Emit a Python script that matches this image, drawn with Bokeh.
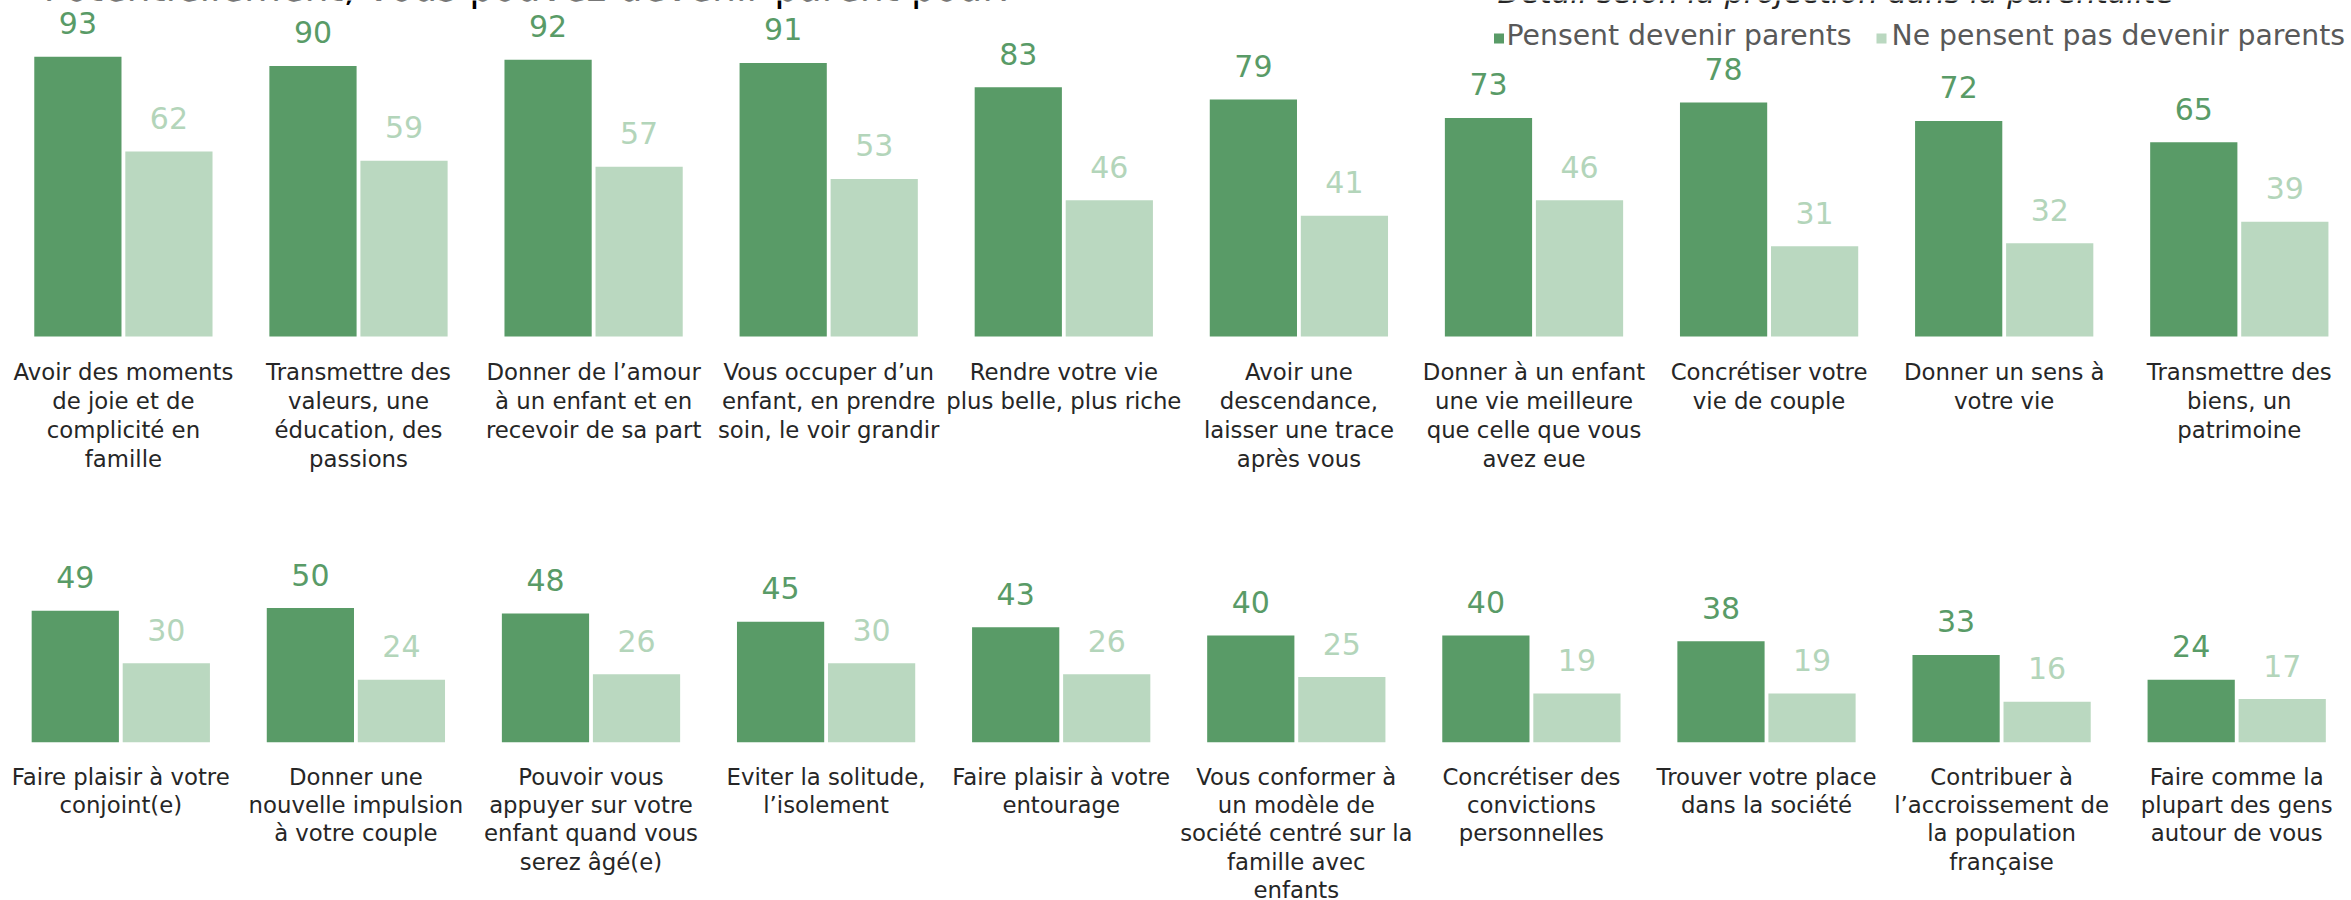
import numpy as np
from bokeh.plotting import figure
from bokeh.models import Range1d, ColumnDataSource
from bokeh.core.properties import value
from bokeh.transform import dodge
from bokeh.embed import file_html
from bokeh.resources import INLINE

# ---------------- data ----------------
title_text = "Potentiellement, vous pouvez devenir parent pour:"
subtitle_text = "Détail selon la projection dans la parentalité"
series_names = ["Pensent devenir parents", "Ne pensent pas devenir parents"]

top_categories = [
    "Avoir des moments\nde joie et de\ncomplicité en\nfamille",
    "Transmettre des\nvaleurs, une\néducation, des\npassions",
    "Donner de l’amour\nà un enfant et en\nrecevoir de sa part",
    "Vous occuper d’un\nenfant, en prendre\nsoin, le voir grandir",
    "Rendre votre vie\nplus belle, plus riche",
    "Avoir une\ndescendance,\nlaisser une trace\naprès vous",
    "Donner à un enfant\nune vie meilleure\nque celle que vous\navez eue",
    "Concrétiser votre\nvie de couple",
    "Donner un sens à\nvotre vie",
    "Transmettre des\nbiens, un\npatrimoine",
]
top_parents = [93, 90, 92, 91, 83, 79, 73, 78, 72, 65]
top_non_parents = [62, 59, 57, 53, 46, 41, 46, 31, 32, 39]

bottom_categories = [
    "Faire plaisir à votre\nconjoint(e)",
    "Donner une\nnouvelle impulsion\nà votre couple",
    "Pouvoir vous\nappuyer sur votre\nenfant quand vous\nserez âgé(e)",
    "Eviter la solitude,\nl’isolement",
    "Faire plaisir à votre\nentourage",
    "Vous conformer à\nun modèle de\nsociété centré sur la\nfamille avec\nenfants",
    "Concrétiser des\nconvictions\npersonnelles",
    "Trouver votre place\ndans la société",
    "Contribuer à\nl’accroissement de\nla population\nfrançaise",
    "Faire comme la\nplupart des gens\nautour de vous",
]
bottom_parents = [49, 50, 48, 45, 43, 40, 40, 38, 33, 24]
bottom_non_parents = [30, 24, 26, 30, 26, 25, 19, 19, 16, 17]

# ---------------- style / layout (pixel positions) ----------------
W, H = 2351, 900
FONT = "DejaVu Sans"
DARK = "#599B67"
LIGHT = "#BAD8C0"
LIGHT_TXT = "#B3D5BA"
LABEL_COLOR = "#262626"
LEGEND_COLOR = "#595959"
TFIX = 0.3                   # text baseline correction (fraction of font size)

GROUP_PX = 235.1
BAR_W = 0.371
DODGE = 0.1936

TOP_C0, BOT_C0 = 122.9, 120.3
TOP_BASE, TOP_PPU, TOP_MIN = 336.0, 3.055, 1.44
BOT_BASE, BOT_PPU, BOT_MIN = 741.7, 2.76, 1.38

VAL_SIZE, LAB_SIZE = 30, 22.8
VAL_GAP = 24.5
TOP_LABEL_FIRST, TOP_LABEL_STEP = 42.2, 29.0
BOT_LABEL_FIRST, BOT_LABEL_STEP = 41.3, 28.3


def xrange_for(c0):
    s = -c0 / GROUP_PX
    return Range1d(s, s + W / GROUP_PX)


def yrange_for(base, ppu, vmin):
    return Range1d(vmin - (H - base) / ppu, vmin + base / ppu)


p = figure(width=W, height=H, output_backend="svg", toolbar_location=None,
           title=None, x_axis_location=None, y_axis_location=None,
           min_border=0, outline_line_color=None,
           x_range=xrange_for(TOP_C0),
           y_range=yrange_for(TOP_BASE, TOP_PPU, TOP_MIN))
p.extra_x_ranges = {"bx": xrange_for(BOT_C0)}
p.extra_y_ranges = {"by": yrange_for(BOT_BASE, BOT_PPU, BOT_MIN)}
p.xgrid.visible = False
p.ygrid.visible = False
p.background_fill_color = "white"
p.border_fill_color = "white"


def draw_row(cats, par, npar, vmin, first, step, xr, yr):
    kw = {}
    if xr:
        kw = dict(x_range_name=xr, y_range_name=yr)
    src = ColumnDataSource(dict(
        idx=list(range(len(cats))),
        par=par, npar=npar,
        par_t=[str(v) for v in par], npar_t=[str(v) for v in npar],
    ))
    p.vbar(x=dodge("idx", -DODGE), top="par", bottom=vmin, width=BAR_W,
           fill_color=DARK, line_color=None, source=src, **kw)
    p.vbar(x=dodge("idx", DODGE), top="npar", bottom=vmin, width=BAR_W,
           fill_color=LIGHT, line_color=None, source=src, **kw)
    voff = -VAL_GAP - TFIX * VAL_SIZE
    p.text(x=dodge("idx", -DODGE), y="par", text="par_t", y_offset=voff,
           text_align="center", text_baseline="alphabetic",
           text_font=value(FONT), text_font_size=f"{VAL_SIZE}px",
           text_color=DARK, source=src, **kw)
    p.text(x=dodge("idx", DODGE), y="npar", text="npar_t", y_offset=voff,
           text_align="center", text_baseline="alphabetic",
           text_font=value(FONT), text_font_size=f"{VAL_SIZE}px",
           text_color=LIGHT_TXT, source=src, **kw)
    lx, ltxt, loff = [], [], []
    for i, c in enumerate(cats):
        for k, line in enumerate(c.split("\n")):
            lx.append(i)
            ltxt.append(line)
            loff.append(first + step * k - TFIX * LAB_SIZE)
    lsrc = ColumnDataSource(dict(x=lx, t=ltxt, off=loff, y=[vmin] * len(lx)))
    p.text(x="x", y="y", text="t", y_offset="off", text_align="center",
           text_baseline="alphabetic", text_font=value(FONT),
           text_font_size=f"{LAB_SIZE}px", text_color=LABEL_COLOR,
           source=lsrc, **kw)


draw_row(top_categories, top_parents, top_non_parents, TOP_MIN,
         TOP_LABEL_FIRST, TOP_LABEL_STEP, None, None)
draw_row(bottom_categories, bottom_parents, bottom_non_parents, BOT_MIN,
         BOT_LABEL_FIRST, BOT_LABEL_STEP, "bx", "by")


# ---------------- annotations at pixel positions ----------------
def px(xp, yp):
    """pixel -> top-row data coordinates"""
    x = p.x_range.start + xp / GROUP_PX
    y = TOP_MIN + (TOP_BASE - yp) / TOP_PPU
    return x, y


def put_text(xp, yp, txt, size, color, style="normal"):
    x, y = px(xp, yp - TFIX * size)
    p.text(x=[x], y=[y], text=[txt], text_align="left",
           text_baseline="alphabetic", text_font=value(FONT),
           text_font_style=style, text_font_size=f"{size}px",
           text_color=color)


put_text(43, -1.0, title_text, 38, "black")
put_text(1497, 1.5, subtitle_text, 30.5, LABEL_COLOR, "italic")

sq = [px(1498.5, 38), px(1881, 38)]
p.scatter(x=[s[0] for s in sq], y=[s[1] for s in sq], marker="square",
          size=10, fill_color=[DARK, LIGHT], line_color=None)
put_text(1506, 43.3, series_names[0], 28.3, LEGEND_COLOR)
put_text(1891, 43.3, series_names[1], 28.3, LEGEND_COLOR)

open("out.html", "w").write(file_html(p, INLINE))
